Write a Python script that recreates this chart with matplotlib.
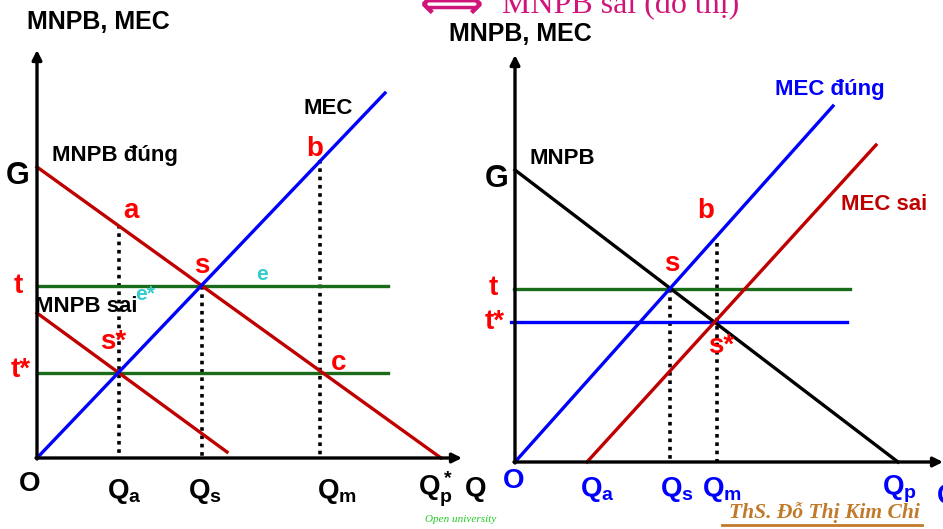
import matplotlib
matplotlib.use("Agg")
import matplotlib.pyplot as plt

plt.rcParams['font.family'] = ['Liberation Sans', 'DejaVu Sans']
plt.rcParams['mathtext.fontset'] = 'custom'
plt.rcParams['mathtext.rm'] = 'Liberation Sans:bold'
plt.rcParams['mathtext.bf'] = 'Liberation Sans:bold'
plt.rcParams['mathtext.it'] = 'Liberation Sans:bold'

# ── Left panel (pixel coords of the slide, y downwards) ──────────────────────
L_origin = (37, 458)
L_yaxis_top = 50
L_xaxis_end = 462
L_mnpb_dung_x, L_mnpb_dung_y = [37, 441], [167, 458]
L_mnpb_sai_x, L_mnpb_sai_y = [37, 227], [313, 452]
L_mec_x, L_mec_y = [37, 385], [458, 93]
L_t_y, L_tstar_y = 286, 373
L_hline_x = [37, 388]
L_drops_x = [119, 202, 320]
L_drops_top = [225, 286, 160]

# ── Right panel ──────────────────────────────────────────────────────────────
R_origin = (515, 462)
R_yaxis_top = 55
R_xaxis_end = 943
R_mnpb_x, R_mnpb_y = [515, 898], [170, 462]
R_mec_dung_x, R_mec_dung_y = [515, 833], [462, 106]
R_mec_sai_x, R_mec_sai_y = [587, 876], [462, 145]
R_t_x, R_t_y = [514, 850], 289
R_tstar_x, R_tstar_y = [511, 847], 322
R_drops_x = [670, 717]
R_drops_top = [289, 243]

DARKRED = '#c00000'
BLUE = '#0000ff'
GREEN = '#1a6b1a'
RED = '#ff0000'
CYAN = '#33cccc'
MAGENTA = '#d0157a'
BROWN = '#c07a2a'

fig = plt.figure(figsize=(9.43, 5.29), dpi=100)
ax = fig.add_axes([0, 0, 1, 1])
ax.set_xlim(0, 943)
ax.set_ylim(529, 0)
ax.axis('off')

LW = 2.4


def axes_arrows(origin, ytop, xend):
    ap = dict(arrowstyle='-|>', lw=LW, color='black', mutation_scale=14,
              shrinkA=0, shrinkB=0)
    ax.annotate('', xy=(origin[0], ytop), xytext=(origin[0], origin[1] + 1),
                arrowprops=ap)
    ax.annotate('', xy=(xend, origin[1]), xytext=(origin[0] - 1, origin[1]),
                arrowprops=ap)


def drops(xs, tops, base):
    for x, top in zip(xs, tops):
        ax.plot([x, x], [top, base], color='black', lw=2.6,
                linestyle=(0, (1, 1.3)))


# left panel
drops(L_drops_x, L_drops_top, L_origin[1])
ax.plot(L_hline_x, [L_t_y, L_t_y], color=GREEN, lw=LW)
ax.plot(L_hline_x, [L_tstar_y, L_tstar_y], color=GREEN, lw=LW)
ax.plot(L_mnpb_dung_x, L_mnpb_dung_y, color=DARKRED, lw=LW)
ax.plot(L_mnpb_sai_x, L_mnpb_sai_y, color=DARKRED, lw=LW)
ax.plot(L_mec_x, L_mec_y, color=BLUE, lw=LW)
axes_arrows(L_origin, L_yaxis_top, L_xaxis_end)

# right panel
drops(R_drops_x, R_drops_top, R_origin[1])
ax.plot(R_t_x, [R_t_y, R_t_y], color=GREEN, lw=LW)
ax.plot(R_tstar_x, [R_tstar_y, R_tstar_y], color=BLUE, lw=LW)
ax.plot(R_mnpb_x, R_mnpb_y, color='black', lw=LW)
ax.plot(R_mec_dung_x, R_mec_dung_y, color=BLUE, lw=LW)
ax.plot(R_mec_sai_x, R_mec_sai_y, color=DARKRED, lw=LW)
axes_arrows(R_origin, R_yaxis_top, R_xaxis_end)


def lbl(x, y, s, color='black', size=20, **kw):
    ax.text(x, y, s, color=color, fontsize=size, fontweight='bold',
            ha='center', va='center', **kw)


# left labels
lbl(98, 22, 'MNPB, MEC', size=18)
lbl(115, 155, 'MNPB đúng', size=16)
lbl(328, 109, 'MEC', size=16)
lbl(86, 306, 'MNPB sai', size=16)
lbl(18, 176, 'G', size=22)
lbl(18, 286, 't', RED)
lbl(21, 370, 't*', RED)
lbl(131, 211, 'a', RED)
lbl(202, 266, 's', RED)
lbl(315, 149, 'b', RED)
lbl(339, 363, 'c', RED)
lbl(113, 342, 's*', RED)
lbl(262, 274, 'e', CYAN, size=15)
lbl(145, 295, 'e*', CYAN, size=15)
lbl(30, 484, 'O')
lbl(124, 491, r'$\mathbf{Q_a}$')
lbl(205, 491, r'$\mathbf{Q_s}$')
lbl(337, 491, r'$\mathbf{Q_m}$')
lbl(435, 489, r'$\mathbf{Q_p^*}$')
lbl(476, 489, 'Q')

# right labels
lbl(520, 34, 'MNPB, MEC', size=18)
lbl(562, 159, 'MNPB', size=16)
lbl(830, 90, 'MEC đúng', BLUE, size=16)
lbl(884, 205, 'MEC sai', DARKRED, size=16)
lbl(497, 179, 'G', size=22)
lbl(706, 211, 'b', RED)
lbl(672, 264, 's', RED)
lbl(493, 288, 't', RED)
lbl(495, 322, 't*', RED)
lbl(721, 346, 's*', RED)
lbl(514, 481, 'O', BLUE)
lbl(597, 489, r'$\mathbf{Q_a}$', BLUE)
lbl(677, 489, r'$\mathbf{Q_s}$', BLUE)
lbl(722, 489, r'$\mathbf{Q_m}$', BLUE)
lbl(899, 489, r'$\mathbf{Q_p}$', BLUE)
lbl(948, 496, 'Q', BLUE)

# slide decorations
ax.text(420, 19, '⟺', color=MAGENTA, fontsize=32, fontweight='bold',
        family=['DejaVu Sans'], ha='left', va='baseline')
ax.text(502, 13, 'MNPB sai (đồ thị)', color=MAGENTA, fontsize=23,
        family=['Liberation Serif', 'DejaVu Serif'], ha='left', va='baseline')
ax.text(461, 519, 'Open university', color='#22cc22', fontsize=8,
        family=['Liberation Serif'], style='italic', ha='center', va='center')
ax.text(824, 513, 'ThS. Đỗ Thị Kim Chi', color=BROWN, fontsize=15.5,
        family=['Liberation Serif'], style='italic', fontweight='bold',
        ha='center', va='center')
ax.plot([722, 922], [525, 525], color=BROWN, lw=2)

fig.savefig('out.png', dpi=100)
